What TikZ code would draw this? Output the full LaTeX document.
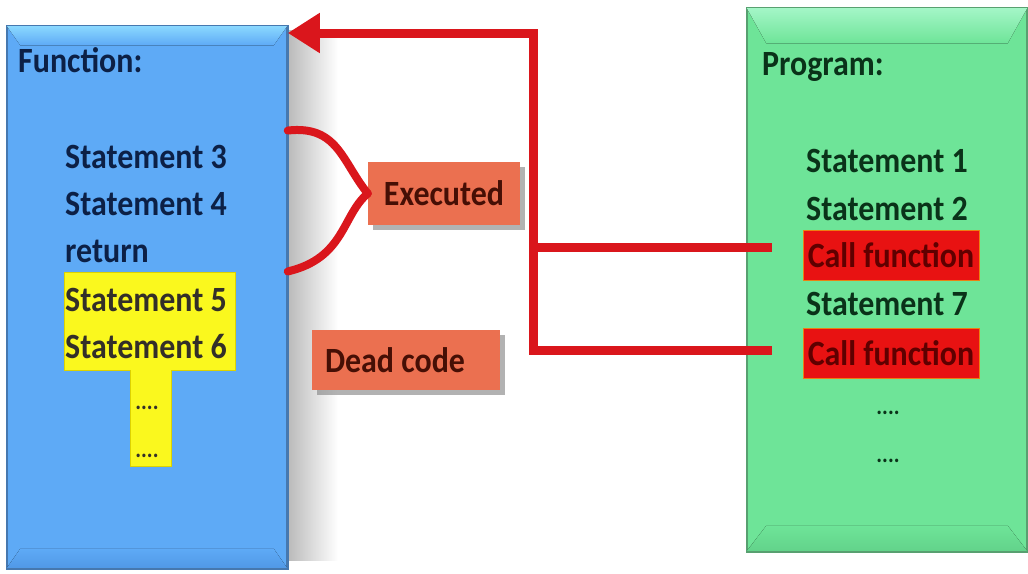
\documentclass[tikz,border=0pt]{standalone}
\usepackage{fontspec}
\setmainfont{Carlito}[FakeStretch=0.9]
\usetikzlibrary{arrows.meta,shadows,calc}

\definecolor{fnblue}{RGB}{94,170,246}
\definecolor{fnedge}{RGB}{70,120,175}
\definecolor{fnlight}{RGB}{140,218,255}
\definecolor{fndark}{RGB}{80,152,230}
\definecolor{fntext}{RGB}{12,32,70}
\definecolor{pggreen}{RGB}{110,228,152}
\definecolor{pgedge}{RGB}{88,160,112}
\definecolor{pglight}{RGB}{165,246,200}
\definecolor{pgdark}{RGB}{98,210,138}
\definecolor{pgtext}{RGB}{10,50,25}
\definecolor{hlyellow}{RGB}{250,248,30}
\definecolor{callred}{RGB}{232,18,18}
\definecolor{calltext}{RGB}{95,0,0}
\definecolor{salmon}{RGB}{235,112,80}
\definecolor{salmontext}{RGB}{70,15,5}
\definecolor{linered}{RGB}{218,22,28}

\newcommand\lbl{\fontsize{35.5}{36}\selectfont\bfseries}

\tikzset{
  panel/.style={draw, line width=1.5pt, minimum width=280pt, inner sep=0pt},
  fnline/.style={anchor=base west, inner sep=0pt, font=\lbl, text=fntext},
  pgline/.style={anchor=base west, inner sep=0pt, font=\lbl, text=pgtext},
  dots/.style={anchor=base, inner sep=0pt, font=\fontsize{24}{24}\selectfont\bfseries},
  callbox/.style={fill=callred, draw=orange!70!brown, line width=1pt, text=calltext,
    font=\lbl, minimum width=176pt, minimum height=50pt, inner sep=0pt},
  tag/.style={fill=salmon, text=salmontext, font=\lbl, inner sep=0pt,
    drop shadow={shadow xshift=5pt, shadow yshift=-5pt, fill=gray, opacity=.6}},
  redline/.style={draw=linered, line width=9pt, line join=miter},
  bracestroke/.style={draw=linered, line width=8pt, line cap=round}
}

\begin{document}
\begin{tikzpicture}[x=1pt, y=-1pt]
  \useasboundingbox (0,0) rectangle (1028,573);
  \fill[white] (0,0) rectangle (1028,573);

  % soft shadow right of the function panel
  \shade[left color=gray!55, right color=white] (287,30) rectangle (338,560);

  % function panel
  \node[panel, fill=fnblue, draw=fnedge, minimum height=542pt] (fn) at (147,297) {};
  \fill[top color=fnlight, bottom color=fnblue]
    (fn.north west) -- (fn.north east) -- ++(-14,20) -- ($(fn.north west)+(14,20)$) -- cycle;
  \fill[top color=fnblue, bottom color=fndark]
    (fn.south west) -- (fn.south east) -- ++(-14,-20) -- ($(fn.south west)+(14,-20)$) -- cycle;
  \draw[fnedge, line width=1.5pt] (fn.north west) rectangle (fn.south east);

  % program panel
  \node[panel, fill=pggreen, draw=pgedge, minimum height=543pt] (pg) at (887,279.5) {};
  \fill[top color=pglight, bottom color=pggreen]
    (pg.north west) -- (pg.north east) -- ++(-20,36) -- ($(pg.north west)+(20,36)$) -- cycle;
  \fill[top color=pggreen, bottom color=pgdark]
    (pg.south west) -- (pg.south east) -- ++(-20,-26) -- ($(pg.south west)+(20,-26)$) -- cycle;
  \draw[pgedge, line width=1.5pt] (pg.north west) rectangle (pg.south east);

  % highlighted unreachable statements
  \fill[hlyellow, draw=yellow!70!olive, line width=1pt]
    (64,272) -- (235,272) -- (235,370) -- (171,370) -- (171,466)
    -- (130,466) -- (130,370) -- (64,370) -- cycle;

  % function panel text
  \node[fnline] (fntitle) at (18,72) {Function:};
  \node[fnline] (s3) at (65,168) {Statement 3};
  \node[fnline] (s4) at (65,215) {Statement 4};
  \node[fnline] (ret) at (65,262) {return};
  \node[fnline, text=black!85!olive] (s5) at (65,311) {Statement 5};
  \node[fnline, text=black!85!olive] (s6) at (65,358) {Statement 6};
  \node[dots, text=black!85!olive] (fd1) at (147,409) {....};
  \node[dots, text=black!85!olive] (fd2) at (147,457) {....};

  % program panel text
  \node[pgline] (pgtitle) at (762,75) {Program:};
  \node[pgline] (s1) at (806,172) {Statement 1};
  \node[pgline] (s2) at (806,220) {Statement 2};
  \node[callbox] (call1) at (891,255) {Call function};
  \node[pgline] (s7) at (806,315) {Statement 7};
  \node[callbox] (call2) at (891,353) {Call function};
  \node[dots, text=pgtext] (pd1) at (888,414) {....};
  \node[dots, text=pgtext] (pd2) at (888,462) {....};

  % labels
  \node[tag, minimum width=152pt, minimum height=63pt] (ex) at (444,193.5) {Executed};
  \node[tag, minimum width=188pt, minimum height=60pt] (dead) at (406,360) {Dead code\hspace*{22pt}};

  % brace grouping the executed statements
  \coordinate (bt) at (fn.east |- s3.north);
  \coordinate (bb) at (fn.east |- ret.south);
  \draw[bracestroke] ($(bt)+(0,-14)$) .. controls (338,125) and (342,162) .. (ex.west);
  \draw[bracestroke] (ex.west) .. controls (342,215) and (345,258) .. ($(bb)+(0,9)$);

  % calls jumping into the function
  \coordinate (jn) at (533,33);
  \coordinate (tap1) at ($(call1.west)+(-31,-8)$);
  \coordinate (tap2) at ($(call2.west)+(-31,-3)$);
  \draw[redline] (tap2) -| (tap1 -| jn);
  \draw[redline, -{Triangle[length=32pt, width=38pt]}] (tap1) -| (jn) -- (fn.east |- jn);
\end{tikzpicture}
\end{document}
